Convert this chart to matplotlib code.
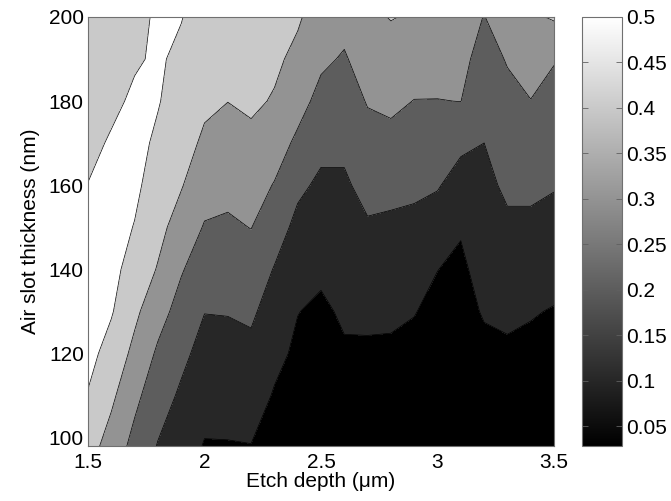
import numpy as np
import matplotlib
matplotlib.use("Agg")
import matplotlib.pyplot as plt
from matplotlib import cm, colors

plt.rcParams['font.family'] = ['Liberation Sans', 'DejaVu Sans']

# Grid of the simulation sweep
etch_depth = [1.5, 1.6, 1.7, 1.8, 1.9, 2.0, 2.1, 2.2, 2.3, 2.4, 2.5,
              2.6, 2.7, 2.8, 2.9, 3.0, 3.1, 3.2, 3.3, 3.4, 3.5]          # um
slot_thickness = [98, 110, 120, 130, 140, 150, 160, 170, 180, 190, 200]  # nm

# One list per etch depth, values from the thinnest to the thickest slot
value_by_depth = [
    [0.440, 0.4945, 0.530, 0.550, 0.550, 0.540, 0.502, 0.475, 0.455, 0.440, 0.425],  # 1.5
    [0.360, 0.419, 0.463, 0.508, 0.530, 0.540, 0.530, 0.510, 0.480, 0.460, 0.440],   # 1.6
    [0.270, 0.324, 0.376, 0.420, 0.458, 0.496, 0.520, 0.530, 0.515, 0.490, 0.470],   # 1.7
    [0.195, 0.242, 0.285, 0.337, 0.394, 0.426, 0.454, 0.483, 0.506, 0.512, 0.515],   # 1.8
    [0.150, 0.186, 0.222, 0.264, 0.308, 0.361, 0.406, 0.430, 0.455, 0.479, 0.504],   # 1.9
    [0.094, 0.135, 0.168, 0.202, 0.247, 0.293, 0.340, 0.387, 0.414, 0.434, 0.454],   # 2.0
    [0.095, 0.136, 0.170, 0.204, 0.245, 0.286, 0.325, 0.362, 0.401, 0.420, 0.440],   # 2.1
    [0.098, 0.1415, 0.177, 0.215, 0.258, 0.302, 0.340, 0.379, 0.415, 0.430, 0.440],  # 2.2
    [0.075, 0.093, 0.122, 0.158, 0.195, 0.2436, 0.295, 0.344, 0.393, 0.415, 0.425],  # 2.3
    [0.050, 0.070, 0.085, 0.102, 0.138, 0.175, 0.219, 0.281, 0.335, 0.380, 0.410],   # 2.4
    [0.040, 0.055, 0.070, 0.085, 0.115, 0.149, 0.183, 0.223, 0.271, 0.317, 0.360],   # 2.5
    [0.050, 0.070, 0.090, 0.112, 0.137, 0.162, 0.187, 0.218, 0.254, 0.291, 0.330],   # 2.6
    [0.045, 0.065, 0.085, 0.120, 0.155, 0.190, 0.228, 0.267, 0.306, 0.343, 0.380],   # 2.7
    [0.045, 0.065, 0.087, 0.114, 0.149, 0.183, 0.225, 0.273, 0.319, 0.361, 0.404],   # 2.8
    [0.040, 0.060, 0.080, 0.103, 0.140, 0.178, 0.217, 0.257, 0.298, 0.344, 0.390],   # 2.9
    [0.030, 0.050, 0.065, 0.080, 0.101, 0.155, 0.207, 0.252, 0.298, 0.334, 0.370],   # 3.0
    [0.030, 0.045, 0.060, 0.072, 0.085, 0.107, 0.162, 0.218, 0.301, 0.325, 0.350],   # 3.1
    [0.035, 0.055, 0.080, 0.107, 0.130, 0.153, 0.177, 0.1998, 0.232, 0.265, 0.297],  # 3.2
    [0.035, 0.060, 0.085, 0.118, 0.151, 0.184, 0.216, 0.246, 0.276, 0.306, 0.357],   # 3.3
    [0.030, 0.055, 0.080, 0.106, 0.144, 0.181, 0.219, 0.258, 0.298, 0.341, 0.384],   # 3.4
    [0.028, 0.050, 0.075, 0.095, 0.131, 0.169, 0.206, 0.239, 0.272, 0.305, 0.410],   # 3.5
]

contour_levels = [0.1, 0.2, 0.3, 0.4, 0.5]
colorbar_ticks = [0.05, 0.1, 0.15, 0.2, 0.25, 0.3, 0.35, 0.4, 0.45, 0.5]

X, Y = np.meshgrid(etch_depth, slot_thickness)
Z = np.array(value_by_depth).T

# Colour scale spans the data minimum up to the top contour level;
# each band is painted with the colour of its lower bound
cmap = plt.get_cmap('gray')
norm = colors.Normalize(vmin=Z.min(), vmax=contour_levels[-1])
fill_levels = [Z.min()] + contour_levels + [max(Z.max(), contour_levels[-1]) + 1e-3]
band_colors = [cmap(norm(v)) for v in fill_levels[:-1]]

fig = plt.figure(figsize=(6.71, 5.01), dpi=100)
ax = fig.add_axes([88 / 671, 55 / 501, 466 / 671, 429 / 501])

ax.contourf(X, Y, Z, levels=fill_levels, colors=band_colors)
ax.contour(X, Y, Z, levels=contour_levels, colors='k', linewidths=0.5)

ax.set_xlim(etch_depth[0], etch_depth[-1])
ax.set_ylim(slot_thickness[0], slot_thickness[-1])
ax.set_xticks([1.5, 2, 2.5, 3, 3.5])
ax.set_xticklabels(['1.5', '2', '2.5', '3', '3.5'])
ax.set_yticks([100, 120, 140, 160, 180, 200])
ax.tick_params(axis='both', length=0, labelsize=15)
ax.tick_params(axis='x', pad=5)
ax.tick_params(axis='y', pad=3)
for s in ax.spines.values():
    s.set_color('#707070')
    s.set_linewidth(0.8)

ax.set_xlabel('Etch depth (\u03bcm)', fontsize=15, labelpad=0)
ax.set_ylabel('Air slot thickness (nm)', fontsize=15, labelpad=6)

# Continuous grey scale bar
cax = fig.add_axes([582 / 671, 55 / 501, 40 / 671, 429 / 501])
sm = cm.ScalarMappable(norm=norm, cmap=cmap)
cb = fig.colorbar(sm, cax=cax)
cb.set_ticks(colorbar_ticks)
cb.set_ticklabels(['%g' % t for t in colorbar_ticks])
cax.tick_params(axis='y', direction='in', left=True, right=True, length=4,
                width=0.6, color='#606060', labelsize=15, pad=3)
cb.outline.set_edgecolor('#707070')
cb.outline.set_linewidth(0.8)

fig.savefig('out.png', dpi=100)
